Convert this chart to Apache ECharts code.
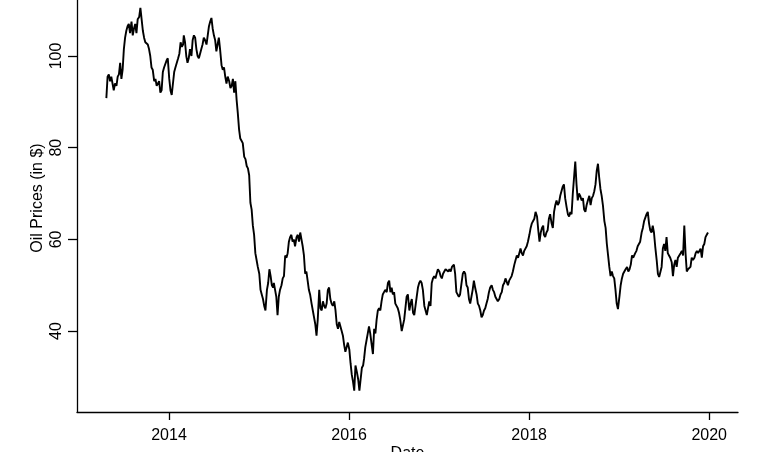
<!DOCTYPE html>
<html><head><meta charset="utf-8">
<script src="https://cdn.jsdelivr.net/npm/echarts@6/dist/echarts.min.js"></script>
<style>html,body{margin:0;padding:0;background:#fff}#c{width:768px;height:452px}</style>
</head><body><div id="c"></div>
<script>
// Sample days within each month
const sampleDays = [2, 7, 12, 17, 22, 27];
// WTI-like oil prices, 6 samples per month
const price2013 = [ // Apr..Dec
  null,null,null,null,90.8,95.5,
  96,94.5,95.5,94,92.5,94,
  93.5,95.5,96,98.5,95,97,
  101.5,104,105.5,106.5,107,105,
  107.5,104.5,106,107,105,108,
  108.5,110.5,108,105.5,104,103,
  103,102.5,101.5,100,97.5,97,
  94.5,95,93.5,93.5,94.5,92,
  92.5,96.5,97.5,97.5,99,99.5
];
const price2014 = [
  95,92.5,91.5,94,96.5,97.5,
  97.5,99.5,100.5,103,102,102.5,
  104.5,103,100,98.5,99.5,101.5,
  100,103.5,104.5,104,101.5,100,
  99.5,100.5,101.5,102.5,104,103.5,
  102.5,104.5,106.5,107.5,108.3,106,
  104.5,103.5,101,102.5,104,101.5,
  98,97,97.5,95.5,94,95.5,
  94.5,93,93.5,95,92,94.5,
  90.5,87.5,84,82,81.5,81,
  78,77.5,76,75.5,74,68,
  66.5,63,61,57,55.5,54
];
const price2015 = [
  52.5,49,48,47,45.5,44.5,
  49,50.5,53.5,52,50,49.5,
  50.5,49,47.5,43.5,47.5,49,
  50,51.5,52,56.5,56,57,
  59.5,60.5,61,59.5,60,58.5,
  60.5,61,59.5,61.5,60,58.5,
  56.5,52.5,53,51,49,48,
  46,44.5,43,41.5,39,42.5,
  49,45,44.5,46.5,45.5,45,
  46,49,49.5,47,46,45.5,
  46.5,44.5,41.5,40.5,42,42,
  40,39,37,35.5,36.5,37.5
];
const price2016 = [
  36,33,30.5,29,27,32.5,
  31,29.5,27,29.5,32,32.5,
  34,36.5,38,39.5,41,39.5,
  37,35,40.5,39.5,42.5,44.5,
  45,44.5,46.5,48,48.5,49,
  48.5,50.5,51,48.5,49.5,48,
  48.5,46,45.5,45,44,42.5,
  40,39.8,42.5,45,47.5,48,
  44.5,46,47,44,43.5,45.5,
  47.5,49.5,50.5,51,50.5,49,
  45.5,44.5,43.5,45,46.5,45.5,
  50.5,51.5,52,51.5,52.5,53.5
];
const price2017 = [
  53,52,51.5,52.5,53,53.5,
  53.5,53,53.5,53,54,54,
  54.5,52.5,48.5,48.5,47.5,48,
  50.5,52.5,53,52.5,50,49.5,
  47,46,47.5,49,51,49.5,
  48,46,45.5,44.5,43,43.5,
  44.5,45,46,47,48.5,49.5,
  50,49,48.5,47.5,47,46.5,
  47,48,48.5,50,50.5,51.5,
  51.5,50,51,51.5,52,53,
  54.5,55.5,56.5,56,57,58,
  57,56.5,57.5,57.5,58.5,59.5
];
const price2018 = [
  61,62.5,63.5,64,64.5,66,
  65,62,59.5,61.5,62.5,63,
  61,60.5,61.5,62,64.5,65.5,
  63.5,62.5,66,67.5,68.5,67.5,
  68,69.5,70.5,71.5,72,69,
  67,65.5,65,66,65.5,70,
  73.5,77,72,68.5,70,69.5,
  68.5,69,66.5,66,67.5,68.5,
  69.5,67.5,69,69.5,70.5,72,
  75,76.5,73.5,71,69.5,67.5,
  64,62.5,59,56.5,54,52,
  53,52,51.5,49,46,44.8
];
const price2019 = [
  47.5,50,51.5,52.5,53,53.5,
  54,53,53.5,54.5,56.5,56,
  56,57,57.5,58.5,59,59.5,
  61.5,62.5,64,64,65.5,66,
  63.5,62,61.5,63,61.5,58.5,
  55.5,52.5,51.8,52,54,58,
  59,57.5,60.5,57,56.5,56,
  55,52,54.5,55.5,54,56,
  56,57,57.5,56.5,63,57,
  53,53.5,53.5,54,56,55.5,
  56,57,57.5,57,57.5,58,
  56,58.5,59,60.5,61,61.5
];
const yearBlocks = [
  {year: 2013, firstMonth: 4, values: price2013},
  {year: 2014, firstMonth: 1, values: price2014},
  {year: 2015, firstMonth: 1, values: price2015},
  {year: 2016, firstMonth: 1, values: price2016},
  {year: 2017, firstMonth: 1, values: price2017},
  {year: 2018, firstMonth: 1, values: price2018},
  {year: 2019, firstMonth: 1, values: price2019}
];
const yTickValues = [40, 60, 80, 100];
const xTickYears = [2014, 2016, 2018, 2020];

// date -> fractional year (x position on a numeric year axis)
function yearFrac(y, m, d) {
  const t0 = Date.UTC(y, 0, 1), t1 = Date.UTC(y + 1, 0, 1);
  return y + (Date.UTC(y, m - 1, d) - t0) / (t1 - t0);
}
const data = [];
yearBlocks.forEach(b => {
  b.values.forEach((v, i) => {
    if (v === null) return;
    const m = b.firstMonth + Math.floor(i / sampleDays.length);
    const d = sampleDays[i % sampleDays.length];
    data.push([yearFrac(b.year, m, d), v]);
  });
});

const font = 'Liberation Sans, Arial, Helvetica, sans-serif';
const chart = echarts.init(document.getElementById('c'), null, {renderer: 'canvas'});
chart.setOption({
  animation: false,
  backgroundColor: '#fff',
  grid: {left: 77, right: 30, top: 0, bottom: 40, containLabel: false, outerBoundsMode: 'none'},
  xAxis: {
    type: 'value',
    min: yearFrac(2012, 12, 24),
    max: yearFrac(2020, 4, 27),
    name: 'Date',
    nameLocation: 'middle',
    nameGap: 34,
    nameMoveOverlap: false,
    nameTextStyle: {color: '#000', fontFamily: font, fontSize: 16},
    axisLine: {show: true, onZero: false, lineStyle: {color: '#000', width: 1.3}},
    axisTick: {show: true, length: 8, customValues: xTickYears, lineStyle: {color: '#000', width: 1.3}},
    axisLabel: {customValues: xTickYears, margin: 16, color: '#000', fontFamily: font, fontSize: 16,
      formatter: v => String(Math.round(v))},
    splitLine: {show: false}
  },
  yAxis: {
    type: 'value',
    min: 22.36,
    max: 112.21,
    name: 'Oil Prices (in $)',
    nameLocation: 'middle',
    nameRotate: 90,
    nameGap: 31,
    nameMoveOverlap: false,
    nameTextStyle: {color: '#000', fontFamily: font, fontSize: 16, padding: [0, 0, 0, 16]},
    axisLine: {show: true, onZero: false, lineStyle: {color: '#000', width: 1.3}},
    axisTick: {show: true, length: 9, customValues: yTickValues, lineStyle: {color: '#000', width: 1.3}},
    axisLabel: {customValues: yTickValues, rotate: 90, margin: 12, color: '#000', fontFamily: font, fontSize: 16},
    splitLine: {show: false}
  },
  series: [{
    type: 'line',
    data: data,
    showSymbol: false,
    lineStyle: {color: '#000', width: 1.9},
    itemStyle: {color: '#000'}
  }]
});
</script></body></html>
